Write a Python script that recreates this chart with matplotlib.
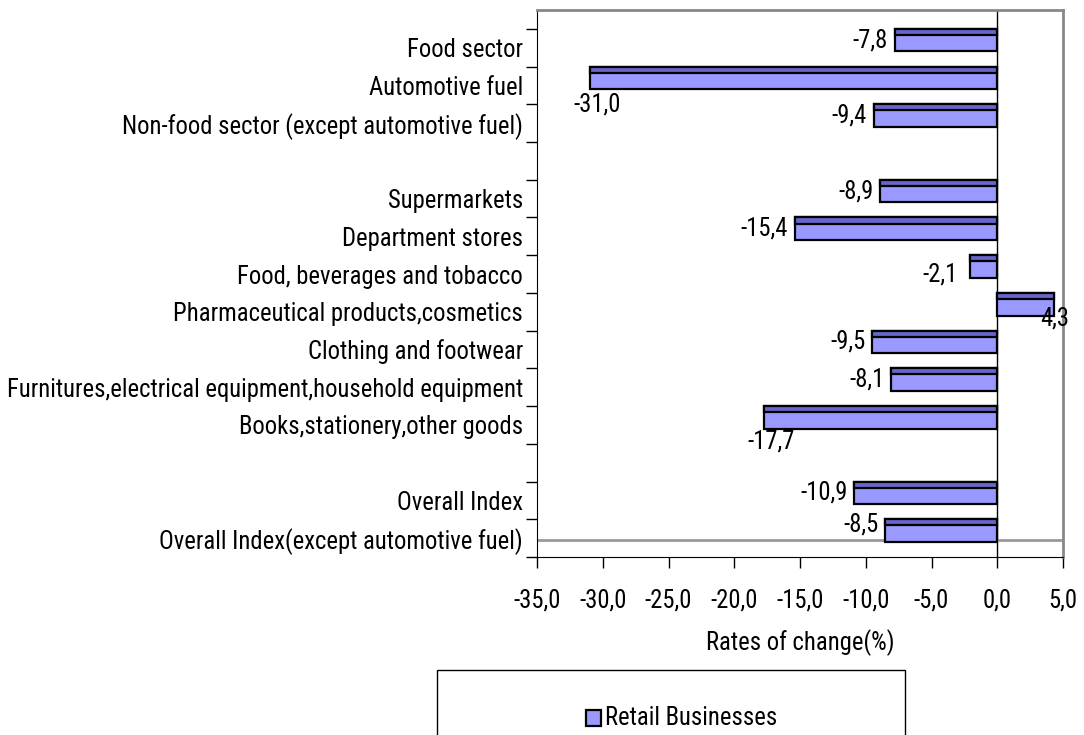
import matplotlib
matplotlib.use('Agg')
import matplotlib.pyplot as plt
from matplotlib.patches import Rectangle
import numpy as np

# the reference text is tall and narrow, so use a condensed face
plt.rcParams['font.family'] = ['Roboto Condensed', 'Liberation Sans', 'DejaVu Sans']

# data (top to bottom, '' = empty gap row)
categories = ['Food sector', 'Automotive fuel', 'Non-food sector (except automotive fuel)', '',
              'Supermarkets', 'Department stores', 'Food, beverages and tobacco',
              'Pharmaceutical products,cosmetics', 'Clothing and footwear',
              'Furnitures,electrical equipment,household equipment',
              'Books,stationery,other goods', '',
              'Overall Index', 'Overall Index(except automotive fuel)']
values = [-7.8, -31.0, -9.4, None, -8.9, -15.4, -2.1, 4.3, -9.5, -8.1, -17.7, None, -10.9, -8.5]
series_name = 'Retail Businesses'
xticks = [-35, -30, -25, -20, -15, -10, -5, 0, 5]

light = '#9999ff'
dark = '#6666cc'

# label placement tweaks: index -> (dx, dy, ha)
label_pos = {1: (0.6, 1.0, 'center'), 6: (-0.9, 0.5, 'right'), 7: (0.1, 0.67, 'center'),
             10: (0.5, 0.94, 'center'), 13: (-0.5, 0.15, 'right')}


def fmt(v):
    return f'{v:.1f}'.replace('.', ',')


fig = plt.figure(figsize=(10.84, 7.35), dpi=100)

# size the font so the longest category label is ~513 px wide, like the reference
probe = fig.text(0, 0, categories[9], fontsize=20)
w = probe.get_window_extent(renderer=fig.canvas.get_renderer()).width
probe.remove()
FS = min(19.0, 20 * 513 / w)
plt.rcParams['font.size'] = FS

ax = fig.add_axes([537 / 1084, 1 - 557 / 735, 526 / 1084, 547 / 735])

idx = [i for i, v in enumerate(values) if v is not None]
vals = np.array([values[i] for i in idx])
pos = np.array(idx, dtype=float)

bar_h = 0.6
ax.barh(pos, vals, height=bar_h, align='edge', color=light, edgecolor='black', linewidth=1.6, zorder=3)
ax.barh(pos, vals, height=bar_h * 0.27, align='edge', color=dark, edgecolor='black', linewidth=1.6, zorder=4)

for i, v in zip(idx, vals):
    dx, dy, ha = label_pos.get(i, (-0.5, 0.3, 'right'))
    ax.text(v + dx, i + dy, fmt(v), ha=ha, va='center', fontsize=FS, zorder=5)

ax.set_xlim(-35, 5)
ax.set_ylim(14, -0.5)
ax.axvline(0, color='black', linewidth=1, zorder=2)
ax.axhline(13.55, color='#999999', linewidth=2, zorder=2)

ax.set_xticks(xticks)
ax.set_xticklabels([fmt(t) for t in xticks], fontsize=FS)
ax.set_yticks(np.arange(0, 15))
ax.set_yticklabels([])
ax.set_yticks(np.arange(len(categories)) + 0.5, minor=True)
ax.set_yticklabels(categories, minor=True, fontsize=FS)
ax.tick_params(axis='y', which='major', length=8, width=1, direction='out')
ax.tick_params(axis='y', which='minor', length=0, pad=10)
ax.tick_params(axis='x', length=8, width=1, direction='out', pad=15)

for s in ['top', 'right']:
    ax.spines[s].set_color('#888888')
    ax.spines[s].set_linewidth(2)
ax.spines['left'].set_color('black')
ax.spines['bottom'].set_color('black')

ax.set_xlabel('Rates of change(%)', labelpad=12, fontsize=FS)

# legend box (cut by the bottom edge)
fig.patches.append(Rectangle((437 / 1084, 1 - 745 / 735), 468 / 1084, 75 / 735,
                             transform=fig.transFigure, facecolor='white',
                             edgecolor='black', linewidth=1))
fig.patches.append(Rectangle((586 / 1084, 1 - 726 / 735), 15 / 1084, 16 / 735,
                             transform=fig.transFigure, facecolor=light,
                             edgecolor='black', linewidth=1.6))
fig.text(605 / 1084, 1 - 718 / 735, series_name, ha='left', va='center', fontsize=FS)

fig.savefig('out.png', dpi=100)
